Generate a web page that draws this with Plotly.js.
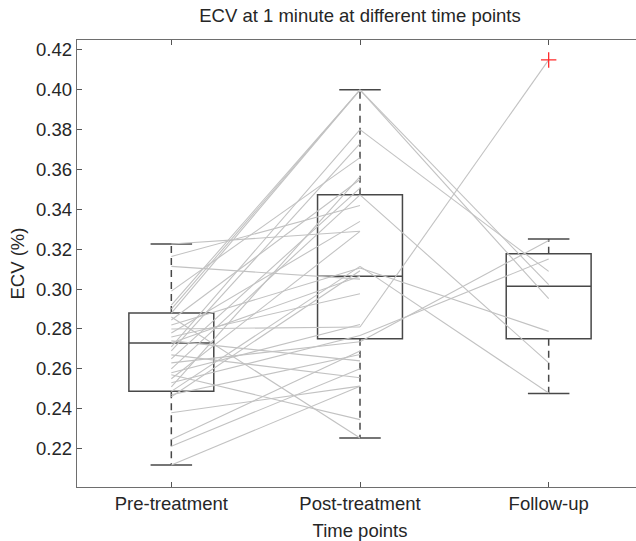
<!DOCTYPE html>
<html>
<head>
<meta charset="utf-8">
<script src="https://cdn.plot.ly/plotly-3.0.1.min.js"></script>
<style>
html, body { margin: 0; padding: 0; overflow: hidden; background: #fff; }
#chart { width: 650px; height: 541px; }
</style>
</head>
<body>
<div id="chart"></div>
<script>
// ---- data ----
const categories = ['Pre-treatment', 'Post-treatment', 'Follow-up'];
const categoryPos = [1, 2, 3];

// box statistics
const boxQ1 = [0.2487, 0.2751, 0.2751];
const boxMedian = [0.2730, 0.3064, 0.3014];
const boxQ3 = [0.2880, 0.3473, 0.3177];
const boxLower = [0.2117, 0.2253, 0.2476];
const boxUpper = [0.3226, 0.4000, 0.3251];

// outlier
const outlierPos = [3];
const outlierValue = [0.415];

// paired subjects
const preValues = [0.3226, 0.3164, 0.3114, 0.2990, 0.2920, 0.2900, 0.2880, 0.2860, 0.2845, 0.2820,
                   0.2800, 0.2780, 0.2760, 0.2740, 0.2730, 0.2710, 0.2690, 0.2670, 0.2650, 0.2630,
                   0.2600, 0.2580, 0.2570, 0.2550, 0.2530, 0.2510, 0.2487, 0.2470, 0.2460, 0.2380,
                   0.2245, 0.2212, 0.2117];
const postValues = [0.3290, 0.3420, 0.3050, 0.3660, 0.4000, 0.4000, 0.4000, 0.2253, 0.3550, 0.3106,
                    0.2810, 0.3340, 0.2977, 0.2640, 0.3064, 0.3800, 0.3730, 0.2555, 0.3507, 0.2736,
                    0.3473, 0.2822, 0.2345, 0.3290, 0.2767, 0.3565, 0.3114, 0.2672, 0.3092, 0.2513,
                    0.2690, 0.2600, 0.2513];
const followValues = [null, null, null, null, 0.3022, 0.2952, null, null, null, 0.2788,
                      0.4150, null, null, null, null, 0.3089, null, null, null, 0.3244,
                      0.2630, null, null, null, 0.3151, null, 0.2479, null, null, null,
                      null, null, null];

// ---- build traces ----
const lineColor = '#c2c2c2';
const boxColor = '#484848';

const pairX = [], pairY = [];
const followX = [], followY = [];
for (let i = 0; i < preValues.length; i++) {
  pairX.push(categoryPos[0], categoryPos[1], null);
  pairY.push(preValues[i], postValues[i], null);
  if (followValues[i] !== null) {
    followX.push(categoryPos[1], categoryPos[2], null);
    followY.push(postValues[i], followValues[i], null);
  }
}

const whiskX = [], whiskY = [];
const capX = [], capY = [];
const capHalf = 0.11;
for (let k = 0; k < categoryPos.length; k++) {
  const c = categoryPos[k];
  whiskX.push(c, c, null, c, c, null);
  whiskY.push(boxQ3[k], boxUpper[k], null, boxQ1[k], boxLower[k], null);
  capX.push(c - capHalf, c + capHalf, null, c - capHalf, c + capHalf, null);
  capY.push(boxUpper[k], boxUpper[k], null, boxLower[k], boxLower[k], null);
}

const traces = [
  {
    type: 'box',
    x: categoryPos,
    q1: boxQ1, median: boxMedian, q3: boxQ3,
    lowerfence: boxQ1, upperfence: boxQ3,
    width: 0.45,
    whiskerwidth: 0,
    boxpoints: false,
    fillcolor: 'rgba(0,0,0,0)',
    line: { color: boxColor, width: 1.5 },
    hoverinfo: 'skip',
    showlegend: false
  },
  {
    type: 'scatter', mode: 'lines', x: whiskX, y: whiskY,
    line: { color: boxColor, width: 1.5, dash: '7px,5px' },
    hoverinfo: 'skip', showlegend: false
  },
  {
    type: 'scatter', mode: 'lines', x: capX, y: capY,
    line: { color: boxColor, width: 1.5 },
    hoverinfo: 'skip', showlegend: false
  },
  {
    type: 'scatter', mode: 'lines', x: pairX, y: pairY,
    line: { color: lineColor, width: 1.1 },
    hoverinfo: 'skip', showlegend: false
  },
  {
    type: 'scatter', mode: 'lines', x: followX, y: followY,
    line: { color: lineColor, width: 1.1 },
    hoverinfo: 'skip', showlegend: false
  },
  {
    type: 'scatter', mode: 'markers', x: outlierPos, y: outlierValue,
    marker: { symbol: 'cross-thin-open', size: 11, color: '#ff2a2a', line: { color: '#ff2a2a', width: 1.3 } },
    hoverinfo: 'skip', showlegend: false
  }
];

const fontFamily = '"Liberation Sans", Arial, Helvetica, sans-serif';
const layout = {
  width: 650, height: 541,
  margin: { l: 77, r: 7, t: 40, b: 54 },
  paper_bgcolor: '#ffffff', plot_bgcolor: '#ffffff',
  font: { family: fontFamily, size: 18.5, color: '#262626' },
  title: {
    text: 'ECV at 1 minute at different time points',
    x: 0.5, xref: 'paper', xanchor: 'center',
    y: 1, yref: 'container', yanchor: 'top', pad: { t: 9 },
    font: { family: fontFamily, size: 18.5, color: '#262626' }
  },
  xaxis: {
    range: [0.5, 3.5],
    tickvals: categoryPos, ticktext: categories,
    ticks: 'inside', ticklen: 5, tickwidth: 1, tickcolor: '#555',
    showline: true, linecolor: '#6e6e6e', linewidth: 1.2, mirror: 'ticks',
    showgrid: false, zeroline: false,
    title: { text: 'Time points', standoff: 11, font: { family: fontFamily, size: 18.5, color: '#262626' } },
    automargin: false
  },
  yaxis: {
    range: [0.2007, 0.425],
    tickvals: [0.22, 0.24, 0.26, 0.28, 0.30, 0.32, 0.34, 0.36, 0.38, 0.40, 0.42],
    tickformat: '.2f',
    ticks: 'inside', ticklen: 5, tickwidth: 1, tickcolor: '#555',
    showline: true, linecolor: '#6e6e6e', linewidth: 1.2, mirror: 'ticks',
    showgrid: false, zeroline: false,
    title: { text: 'ECV (%)', standoff: 6, font: { family: fontFamily, size: 18.5, color: '#262626' } },
    automargin: false
  }
};

Plotly.newPlot('chart', traces, layout, { staticPlot: true, displayModeBar: false });
</script>
</body>
</html>
